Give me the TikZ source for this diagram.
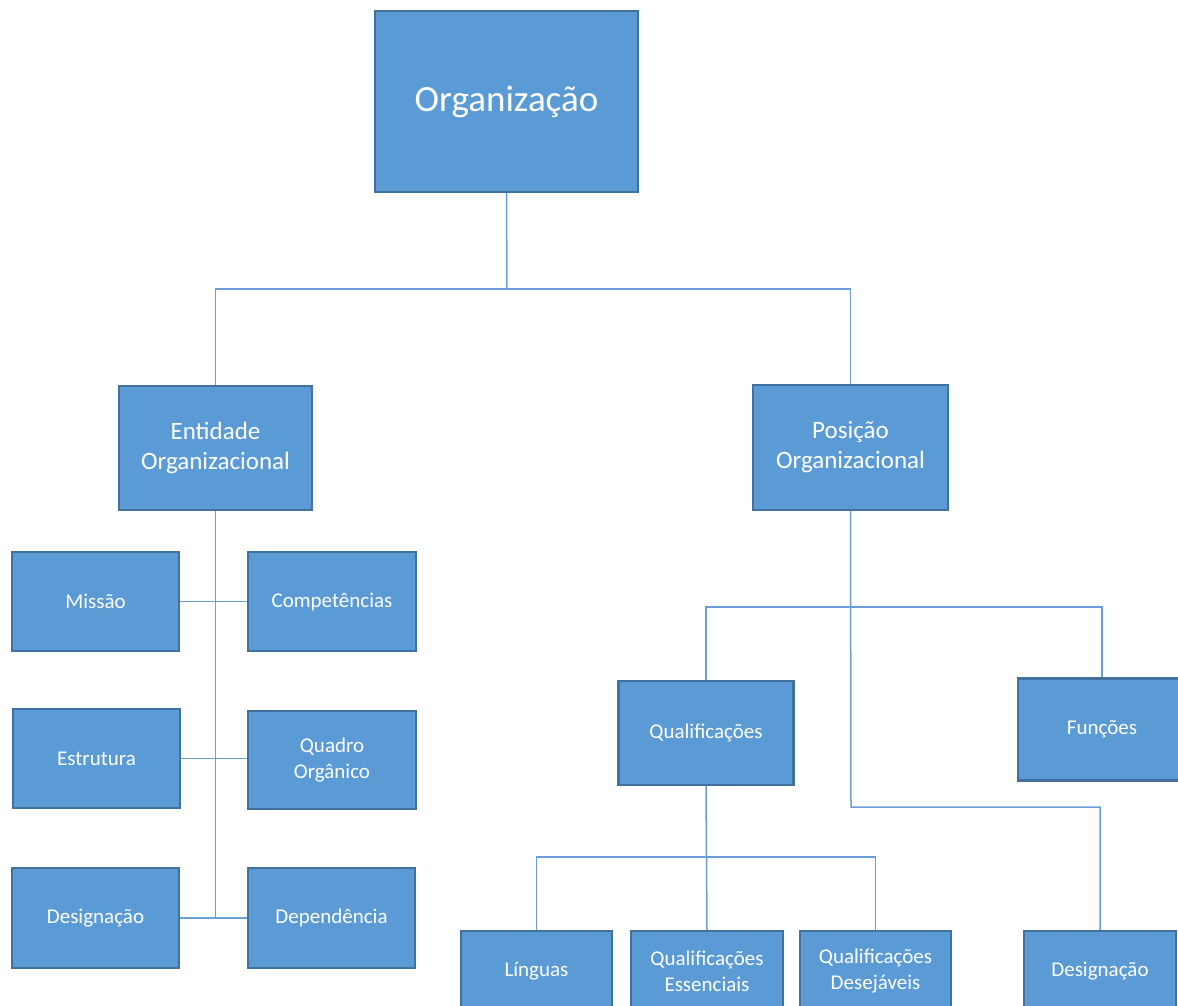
\documentclass[tikz,border=0pt]{standalone}
\usepackage{fontspec}
\setmainfont{Carlito}
\definecolor{boxfill}{HTML}{5B9BD5}
\definecolor{boxline}{HTML}{41719C}
\definecolor{connline}{HTML}{6A9FD6}
\tikzset{
  box/.style={draw=boxline, line width=2.4pt, fill=boxfill, text=white, rectangle,
    align=center, inner sep=0pt, font=\fontsize{21}{26}\selectfont},
  bigbox/.style={box, font=\fontsize{25}{30}\selectfont},
  topbox/.style={box, font=\fontsize{37}{44}\selectfont},
  conn/.style={draw=connline, line width=1.5pt}
}
\begin{document}
\begin{tikzpicture}[x=1pt,y=-1pt]
\useasboundingbox (0,0) rectangle (1178,1006);
\clip (0,0) rectangle (1178,1006);
% nodes
\node[topbox, minimum width=263pt, minimum height=181pt] (org) at (506.5,101.5) {Organização};
\node[bigbox, minimum width=193pt, minimum height=124pt] (ent) at (215.5,448) {Entidade\\Organizacional};
\node[bigbox, minimum width=195pt, minimum height=125pt] (pos) at (850.5,447.5) {Posição\\Organizacional};
\node[box, minimum width=167pt, minimum height=99pt] (mis) at (95.5,601.5) {Missão};
\node[box, minimum width=168pt, minimum height=99pt] (comp) at (332,601.5) {Competências};
\node[box, minimum width=167pt, minimum height=99pt] (est) at (96.5,758.5) {Estrutura};
\node[box, minimum width=168pt, minimum height=98pt] (quad) at (332,760) {Quadro\\Orgânico};
\node[box, minimum width=167pt, minimum height=100pt] (desl) at (95.5,918) {Designação};
\node[box, minimum width=167pt, minimum height=100pt] (dep) at (331.5,918) {Dependência};
\node[box, minimum width=175pt, minimum height=104pt] (qual) at (706,733) {Qualificações};
\node[box, minimum width=168pt, minimum height=102pt] (fun) at (1102,729.5) {Funções};
\node[box, minimum width=151pt, minimum height=80pt] (ling) at (536.5,971) {Línguas};
\node[box, minimum width=152pt, minimum height=80pt] (qess) at (707,971) {Qualificações\\Essenciais};
\node[box, minimum width=151pt, minimum height=80pt] (qdes) at (875.5,971) {Qualificações\\Desejáveis};
\node[box, minimum width=152pt, minimum height=80pt] (desr) at (1100,971) {Designação};
% junctions
\coordinate (j1) at (507,289);
\coordinate (j2) at (851,607);
\coordinate (j3) at (851,807);
\coordinate (j4) at (707,857);
% connectors
\begin{scope}[on background layer/.style={}]
\draw[conn] (org.south) -- (j1);
\draw[conn] (ent.north) |- (j1);
\draw[conn] (pos.north) |- (j1);
\draw[conn] (ent.south) -- (ent.south |- desl.east);
\draw[conn] (mis.east) -- (comp.west);
\draw[conn] (est.east) -- (est.east -| quad.west);
\draw[conn] (desl.east) -- (dep.west);
\draw[conn] (pos.south) -- (j3) -| (desr.north);
\draw[conn] (qual.north) |- (j2) -| (fun.north);
\draw[conn] (qual.south) -- (qess.north);
\draw[conn] (ling.north) |- (j4) -| (qdes.north);
\end{scope}
\end{tikzpicture}
\end{document}
